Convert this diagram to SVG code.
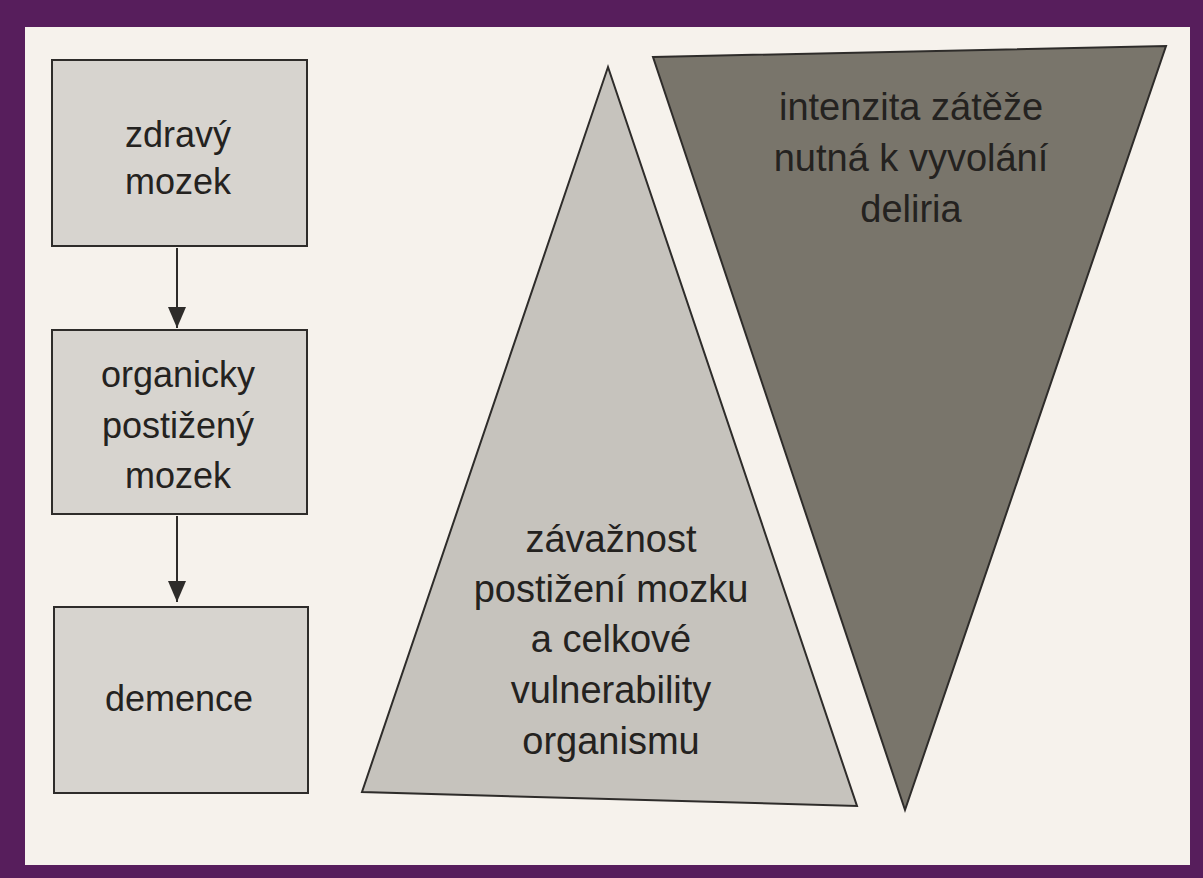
<svg xmlns="http://www.w3.org/2000/svg" width="1203" height="878" viewBox="0 0 1203 878">
  <defs>
    <style>
      .box { fill: #d7d4cf; stroke: #2e2c2a; stroke-width: 2; }
      .lbl { font-family: "Liberation Sans", Arial, sans-serif; fill: #242220; text-anchor: middle; }
      .b { font-size: 36px; }
      .t { font-size: 38px; }
      .conn { stroke: #2e2c2a; stroke-width: 2; fill: none; }
    </style>
    <marker id="arr" markerWidth="21" markerHeight="18" refX="21" refY="9" orient="auto" markerUnits="userSpaceOnUse" viewBox="0 0 21 18">
      <path d="M0,0 L21,9 L0,18 Z" fill="#2e2c2a"/>
    </marker>
  </defs>
  <rect x="0" y="0" width="1203" height="878" fill="#571e5c"/>
  <rect x="25" y="27" width="1165" height="838" fill="#f6f2ec"/>

  <g id="connectors">
    <line class="conn" x1="177" y1="248" x2="177" y2="328" marker-end="url(#arr)"/>
    <line class="conn" x1="177" y1="516" x2="177" y2="602" marker-end="url(#arr)"/>
  </g>

  <g id="node-zdravy">
    <rect class="box" x="52" y="60" width="255" height="186"/>
    <text class="lbl b" x="178" y="147">zdravý</text>
    <text class="lbl b" x="178" y="194">mozek</text>
  </g>

  <g id="node-organicky">
    <rect class="box" x="52" y="330" width="255" height="184"/>
    <text class="lbl b" x="178" y="387">organicky</text>
    <text class="lbl b" x="178" y="438">postižený</text>
    <text class="lbl b" x="178" y="488">mozek</text>
  </g>

  <g id="node-demence">
    <rect class="box" x="54" y="607" width="254" height="186"/>
    <text class="lbl b" x="179" y="711">demence</text>
  </g>

  <g id="node-zavaznost">
    <polygon points="608,67 857,806 362,792" fill="#c6c3bd" stroke="#2e2c2a" stroke-width="2"/>
    <text class="lbl t" x="611" y="552">závažnost</text>
    <text class="lbl t" x="611" y="602">postižení mozku</text>
    <text class="lbl t" x="611" y="652">a celkové</text>
    <text class="lbl t" x="611" y="703">vulnerability</text>
    <text class="lbl t" x="611" y="754">organismu</text>
  </g>

  <g id="node-intenzita">
    <polygon points="653,57 1166,46 905,810" fill="#79756b" stroke="#2e2c2a" stroke-width="2"/>
    <text class="lbl t" x="911" y="120">intenzita zátěže</text>
    <text class="lbl t" x="911" y="171">nutná k vyvolání</text>
    <text class="lbl t" x="911" y="222">deliria</text>
  </g>
</svg>
